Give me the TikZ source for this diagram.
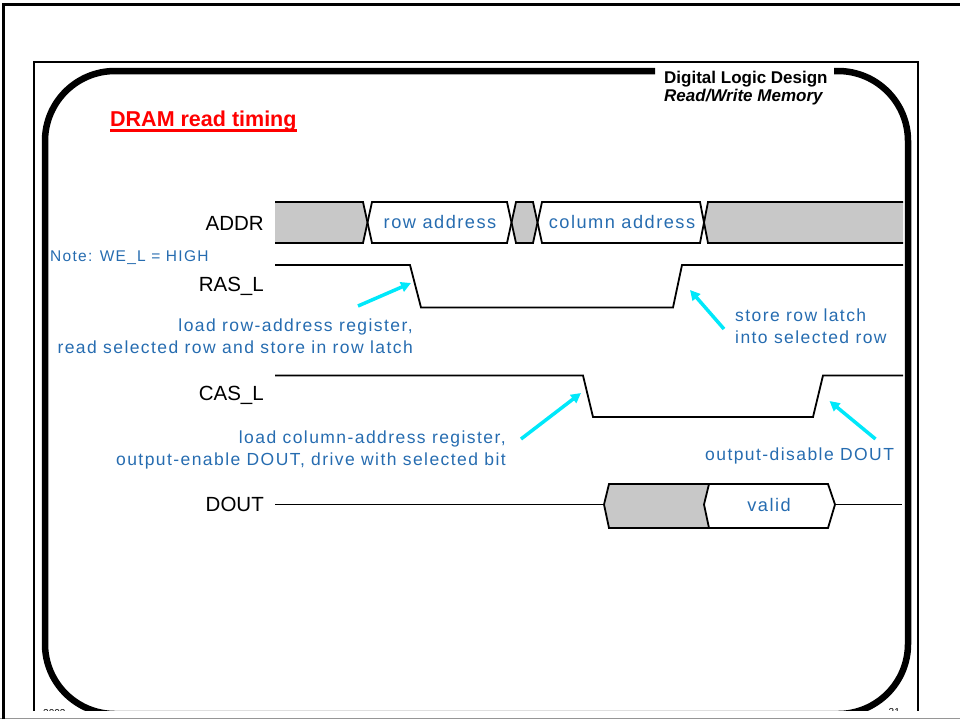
\documentclass[tikz,border=0pt]{standalone}
\usepackage{fontspec}
\setmainfont{Liberation Sans}
\newfontfamily\notefont[LetterSpace=8.2]{Liberation Sans}
\usetikzlibrary{arrows.meta}
\definecolor{noteblue}{RGB}{38,108,176}
\definecolor{hintcyan}{RGB}{0,232,250}
\definecolor{busgray}{RGB}{200,200,200}
\definecolor{titlered}{RGB}{255,0,0}
\definecolor{edgegray}{RGB}{150,150,150}

\begin{document}
\begin{tikzpicture}[x=1pt,y=-1pt,
  sig/.style={line width=1.8pt, line join=miter},
  busshade/.style={fill=busgray},
  signame/.style={anchor=base east, inner sep=0pt, font=\fontsize{20.5}{24}\selectfont},
  note/.style={text=noteblue, inner sep=0pt, font=\notefont\fontsize{17.5}{21}\selectfont},
  buslabel/.style={text=noteblue, inner sep=0pt, anchor=base, font=\notefont\fontsize{18.2}{22}\selectfont},
  hint/.style={draw=hintcyan, line width=3.5pt, -{Triangle[length=10pt,width=10pt]}},
  header/.style={anchor=base west, inner sep=0pt, font=\fontsize{17}{20}\selectfont\bfseries},
]
\useasboundingbox (0,0) rectangle (960,721);

% page edges
\draw[edgegray, line width=1.5pt] (0,718.5) -- (960,718.5);
\draw[line width=3pt] (3,719) -- (3,4.5) -- (962,4.5);

% slide body, cut off at the bottom
\begin{scope}
  \clip (0,0) rectangle (960,710);
  \draw[line width=2.2pt] (34,715) -- (34,62) -- (918,62) -- (918,715);
  \draw[line width=6.5pt, rounded corners=70pt]
    (655,71) -- (45,71) -- (45,714) -- (908,714) -- (908,71) -- (834,71);
  \node[anchor=base west, inner sep=0pt, font=\fontsize{10}{12}\selectfont] (year) at (43,716) {2003};
  \node[anchor=base east, inner sep=0pt, font=\fontsize{10}{12}\selectfont] (pageno) at (900,715) {21};
\end{scope}

% header and title
\node[header] (course) at (664,83) {Digital Logic Design};
\node[header, font=\fontsize{17}{20}\selectfont\bfseries\itshape] (topic) at (664,101) {Read/Write Memory};
\node[anchor=base west, inner sep=0pt, text=titlered, font=\fontsize{21.5}{26}\selectfont\bfseries] (title) at (110,126.7) {DRAM read timing};
\draw[titlered, line width=3pt] ([yshift=-3.8pt]title.base west) -- ([yshift=-3.8pt]title.base east);

% signal names
\node[signame] (addrlbl) at (264,230) {ADDR};
\node[signame] (raslbl) at (264,291.5) {RAS\_L};
\node[signame] (caslbl) at (264,400.5) {CAS\_L};
\node[signame] (doutlbl) at (264,511.5) {DOUT};

% ADDR bus
\fill[busshade] (275,202) -- (363,202) -- (367.5,222.5) -- (363,243) -- (275,243) -- cycle;
\fill[busshade] (511.5,222.5) -- (516,202) -- (533,202) -- (537.5,222.5) -- (533,243) -- (516,243) -- cycle;
\fill[busshade] (704,222.5) -- (708,202) -- (903,202) -- (903,243) -- (708,243) -- cycle;
\draw[sig] (275,202) -- (363,202) -- (372,243) -- (507,243) -- (516,202) -- (533,202)
  -- (542,243) -- (700,243) -- (708,202) -- (903,202);
\draw[sig] (275,243) -- (363,243) -- (372,202) -- (507,202) -- (516,243) -- (533,243)
  -- (542,202) -- (700,202) -- (708,243) -- (903,243);
\node[buslabel] (rowaddr) at (440,228.5) {row address};
\node[buslabel] (coladdr) at (622,228.5) {column address};

% RAS_L and CAS_L
\draw[sig] (275,265) -- (410,265) -- (421,307.5) -- (673,307.5) -- (682,265) -- (903,265);
\draw[sig] (275,375.5) -- (583,375.5) -- (593,417) -- (813,417) -- (823,375.5) -- (903,375.5);

% DOUT bus
\fill[busshade] (604,504.5) -- (609,484) -- (709,484) -- (704,504.5) -- (709,528) -- (609,528) -- cycle;
\draw[sig] (275,504.5) -- (604,504.5);
\draw[sig] (604,504.5) -- (609,484) -- (828,484) -- (835,504.5) -- (828,528) -- (609,528) -- cycle;
\draw[sig] (709,484) -- (704,504.5) -- (709,528);
\draw[sig] (835,504.5) -- (902,504.5);
\node[buslabel] (validlbl) at (769,511) {valid};

% notes
\node[note, anchor=base west, font=\notefont\fontsize{15.5}{20}\selectfont] (weNote) at (50,261.5) {Note: WE\_L = HIGH};
\node[note, anchor=base east] (rowA) at (413,331) {load row-address register,};
\node[note, anchor=base east] (rowB) at (413,353) {read selected row and store in row latch};
\node[note, anchor=base west] (latchA) at (735,321) {store row latch};
\node[note, anchor=base west] (latchB) at (735,343) {into selected row};
\node[note, anchor=base east] (colA) at (506,443) {load column-address register,};
\node[note, anchor=base east] (colB) at (506,465) {output-enable DOUT, drive with selected bit};
\node[note, anchor=base west] (disA) at (705,460) {output-disable DOUT};

% pointers to the edges
\coordinate (rowTail) at (358,306);
\coordinate (rowTip) at (411,283);
\coordinate (latchTail) at (724,329);
\coordinate (latchTip) at (690,290);
\coordinate (colTail) at (521,439);
\coordinate (colTip) at (581,393);
\coordinate (disTail) at (875.5,439);
\coordinate (disTip) at (829.5,401);
\draw[hint] (rowTail) -- (rowTip);
\draw[hint] (latchTail) -- (latchTip);
\draw[hint] (colTail) -- (colTip);
\draw[hint] (disTail) -- (disTip);
\end{tikzpicture}
\end{document}
